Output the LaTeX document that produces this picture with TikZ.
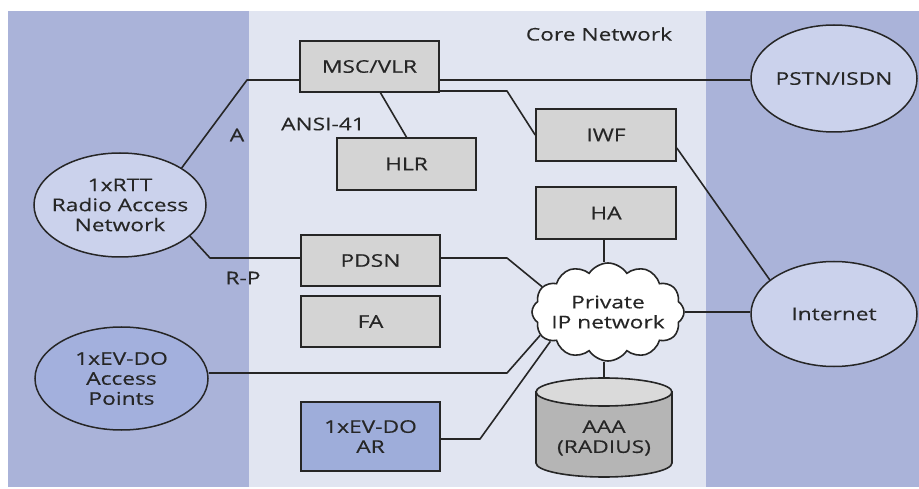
\documentclass[tikz,border=0pt]{standalone}
\usepackage{fontspec}
\setmainfont[FakeStretch=1.3,FakeBold=0.3]{Open Sans}
\usetikzlibrary{shapes.geometric,shapes.symbols,calc}

\definecolor{bandblue}{HTML}{AAB3D9}
\definecolor{corebg}{HTML}{E1E5F1}
\definecolor{boxgray}{HTML}{D4D4D4}
\definecolor{arblue}{HTML}{9EADDA}
\definecolor{ellfill}{HTML}{CBD2EC}
\definecolor{evdofill}{HTML}{A3B0DD}
\definecolor{cylbody}{HTML}{B5B5B5}
\definecolor{cyltop}{HTML}{DADADA}
\definecolor{linec}{HTML}{262626}
\definecolor{textc}{HTML}{262626}

\begin{document}
\begin{tikzpicture}[x=1pt,y=-1pt,
  font=\fontsize{17.5}{20}\selectfont, text=textc,
  conn/.style={draw=linec, line width=1.6pt, line join=round},
  netbox/.style={draw=linec, line width=1.6pt, fill=boxgray,
    minimum width=139pt, minimum height=51pt, inner sep=0pt, align=center},
  netell/.style={ellipse, draw=linec, line width=1.5pt, fill=ellfill,
    inner xsep=-20pt, inner ysep=0pt, align=center},
  lbl/.style={inner sep=0pt}]

\useasboundingbox (0,0) rectangle (919,489);
% background bands: access networks left and right, core in the middle
\fill[white] (0,0) rectangle (919,489);
\fill[bandblue] (8,11) rectangle (919,487);
\fill[corebg] (249,11) rectangle (706,487);

% core network elements
\node[netbox] (msc) at (369.5,66.5) {MSC/VLR};
\node[netbox, minimum height=52pt] (hlr) at (406.5,164) {HLR};
\node[netbox, minimum width=140pt, minimum height=52pt] (iwf) at (606,135) {IWF};
\node[netbox, minimum width=140pt, minimum height=52pt] (ha) at (606,213) {HA};
\node[netbox] (pdsn) at (370.5,260.5) {PDSN};
\node[netbox] (fa) at (370.5,321.5) {FA};
\node[netbox, fill=arblue, minimum height=69pt] (ar) at (370.5,436.5) {1xEV-DO\\AR};

% external networks
\node[netell, minimum width=172pt, minimum height=104pt] (rtt) at (120,205) {1xRTT\\Radio Access\\Network};
\node[netell, fill=evdofill, minimum width=173pt, minimum height=103pt] (evdo) at (121.5,378.5) {1xEV-DO\\Access\\Points};
\node[netell, minimum width=166pt, minimum height=107pt] (pstn) at (834,78.5) {PSTN/ISDN};
\node[netell, minimum width=166pt, minimum height=105pt] (inet) at (834,314) {Internet};

% private IP cloud
\node[cloud, cloud puffs=12, cloud puff arc=115, aspect=1.6, draw=linec,
  line width=1.6pt, fill=white, minimum width=152pt, minimum height=98pt,
  inner xsep=-30pt, inner ysep=-12pt, align=center] (ipnet) at (608,312) {Private\\IP network};

% AAA server drawn as a cylinder
\coordinate (aaatop) at (604,378);
\filldraw[fill=cylbody, draw=linec, line width=1.6pt]
  (536,392) -- (536,463) arc[start angle=180, end angle=0, x radius=68, y radius=14]
  -- (672,392) -- cycle;
\filldraw[fill=cyltop, draw=linec, line width=1.6pt] (604,392) ellipse[x radius=68, y radius=14];
\node[lbl, align=center] (aaa) at (604,438) {AAA\\(RADIUS)};

% interfaces
\coordinate (acorner) at (247,80);
\draw[conn] (rtt.31) -- (acorner) -- (acorner -| msc.west);
\draw[conn] (msc.east |- acorner) -- (pstn.west |- acorner);
\coordinate (iwfcorner) at (507,91);
\draw[conn] (msc.east |- iwfcorner) -- (iwfcorner) -- (iwf.west);
\draw[conn] ([xshift=11pt]msc.south) -- (hlr.north);
\draw[conn] ([yshift=-13pt]iwf.east) -- (inet.152);
\draw[conn] (ipnet.east) -- (ipnet.east -| inet.west);
\draw[conn] ([xshift=-2pt]ha.south) -- ([xshift=-2pt]ha.south |- ipnet.north);
\draw[conn] (ipnet.south -| aaatop) -- (aaatop);

\coordinate (rpcorner) at (210,258);
\draw[conn] (rtt.-24) -- (rpcorner) -- (rpcorner -| pdsn.west);
\coordinate (pdsncorner) at (507,258);
\draw[conn] (pdsn.east |- pdsncorner) -- (pdsncorner) -- (ipnet.159);
\coordinate (evdocorner) at (507,373);
\draw[conn] (evdocorner -| evdo.east) -- (evdocorner) -- (ipnet.199);
\coordinate (arcorner) at (480,439);
\draw[conn] (ar.east |- arcorner) -- (arcorner) -- (ipnet.207);

% interface and area labels
\node[lbl] (lbla) at (237,135) {A};
\node[lbl] (lblansi) at (323,124) {ANSI-41};
\node[lbl] (lblrp) at (243,278) {R-P};
\node[lbl] (lblcore) at (599,34) {Core Network};
\end{tikzpicture}
\end{document}
